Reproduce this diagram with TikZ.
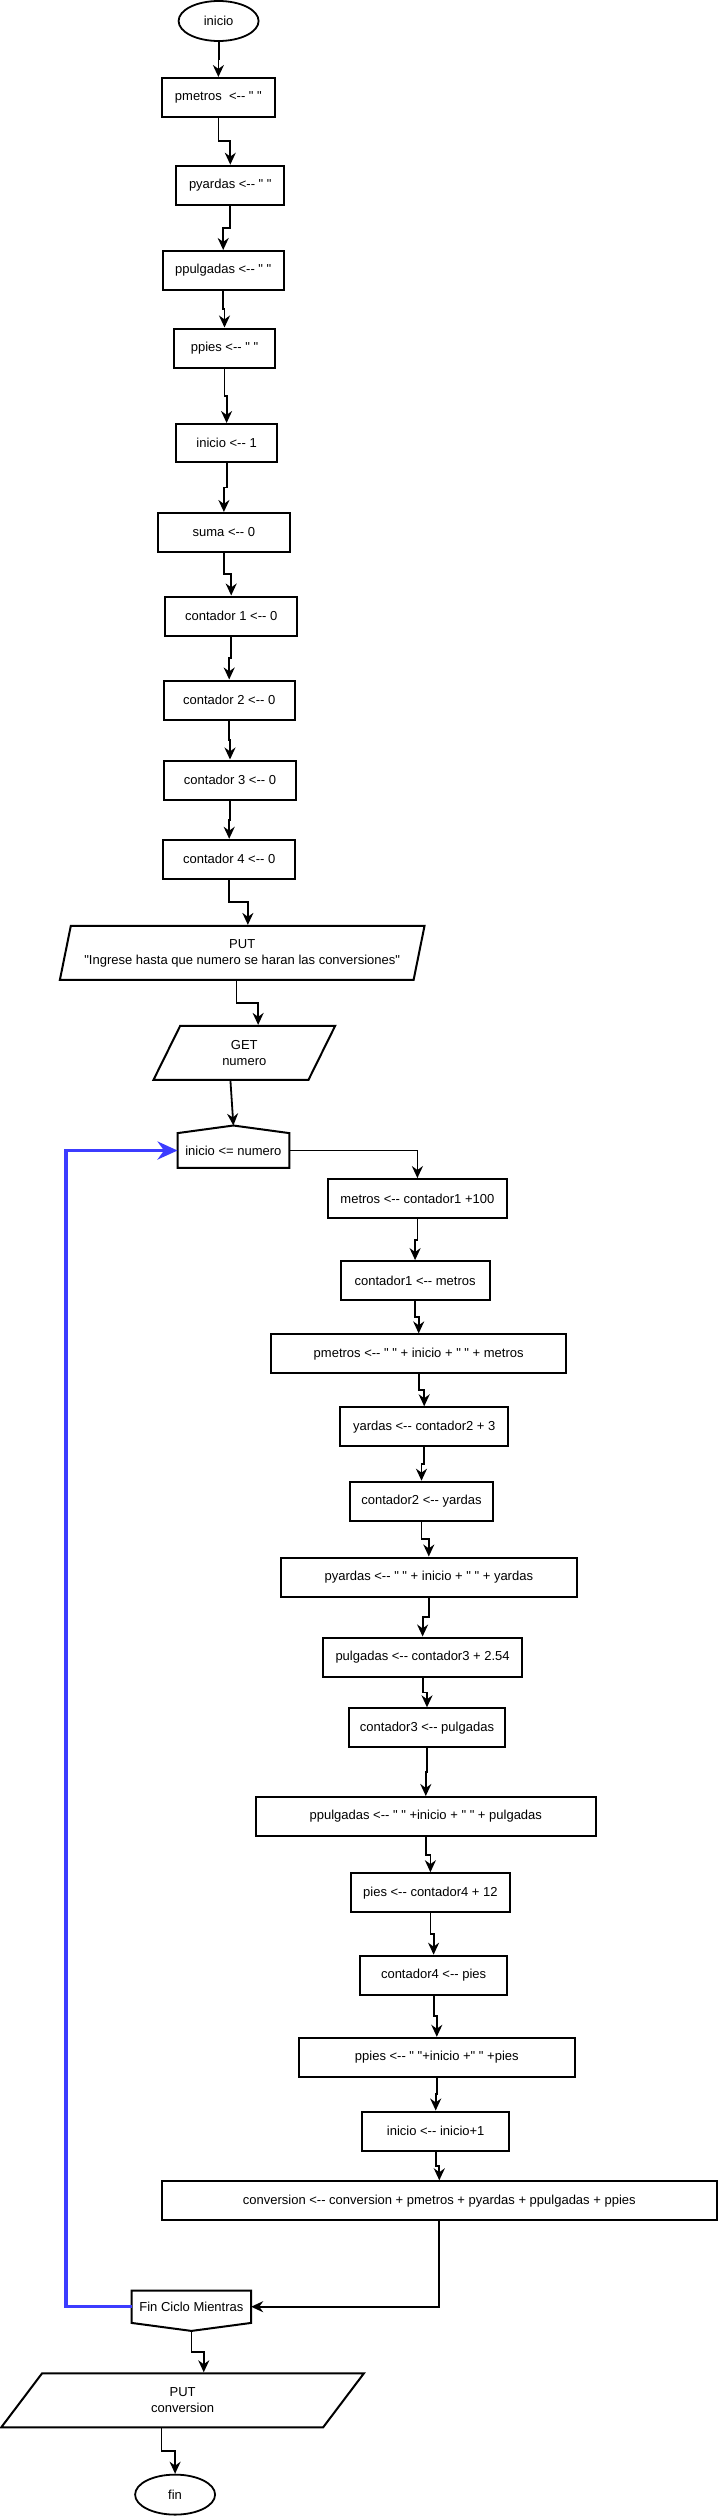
\documentclass[tikz,border=0pt]{standalone}
\usepackage{fontspec}
\newfontfamily\diagfont{Liberation Sans}[Ligatures=TeXOff]
\usepackage{tikz}
\usetikzlibrary{shapes.geometric,arrows.meta,calc}
\definecolor{azulciclo}{RGB}{60,60,255}

\begin{document}
\begin{tikzpicture}[x=1pt, y=-1pt,
    every node/.style={font=\diagfont\fontsize{13}{16}\selectfont, align=center, inner sep=0pt},
    caja/.style={draw, line width=2pt, rectangle, minimum height=39pt},
    terminal/.style={draw, line width=1.8pt, ellipse, minimum width=80pt, minimum height=40pt},
    entrada/.style={draw, line width=2pt, trapezium, trapezium left angle=70, trapezium right angle=110, trapezium stretches=true, minimum height=54pt},
    flecha/.style={-{Stealth[length=12pt,width=11pt]}, line width=1.8pt},
    retorno/.style={-{Stealth[length=20pt,width=18pt]}, line width=3.5pt, azulciclo}]
    \useasboundingbox (0,0) rectangle (718,2516);

    % Inicio
    \node[terminal] (ini) at (218.6,21) {inicio};

    % Valores iniciales
    \node[caja, minimum width=113.6pt] (pmetrosvacio) at (218.4,97.5) {pmetros~~<-- " "};
    \node[caja, minimum width=108pt] (pyardasvacio) at (230.3,185.2) {pyardas <-- " "};
    \node[caja, minimum width=121.4pt] (ppulgadasvacio) at (223.2,270.5) {ppulgadas <-- " "};
    \node[caja, minimum width=101pt] (ppiesvacio) at (224.5,348) {ppies <-- " "};
    \node[caja, minimum width=100.7pt, minimum height=38pt] (inicio1) at (226.6,443) {inicio <-- 1};
    \node[caja, minimum width=131.8pt] (suma0) at (223.9,532.5) {suma <-- 0};
    \node[caja, minimum width=131.9pt] (cont1) at (231.2,616) {contador 1 <-- 0};
    \node[caja, minimum width=131.4pt] (cont2) at (229.2,700) {contador 2 <-- 0};
    \node[caja, minimum width=132pt] (cont3) at (230,780) {contador 3 <-- 0};
    \node[caja, minimum width=131.5pt] (cont4) at (229.2,859.3) {contador 4 <-- 0};

    % Entrada
    \node[entrada, minimum width=365pt] (mensaje) at (242.2,952.9) {PUT\\"Ingrese hasta que numero se haran las conversiones"};
    \node[entrada, minimum width=182pt] (leer) at (244.3,1052.9) {GET\\numero};

    % Ciclo mientras
    \node[minimum width=111.3pt, minimum height=34.4pt] (mientras) at (233.4,1150.5) {inicio <= numero};
    \draw[line width=2pt] (mientras.south west) -- (mientras.north west) -- ([yshift=7.6pt]mientras.north) coordinate (techo) -- (mientras.north east) -- (mientras.south east) -- cycle;

    \node[caja, minimum width=179pt] (metros) at (417.4,1198.6) {metros <-- contador1 +100};
    \node[caja, minimum width=148.8pt] (cont1m) at (415.1,1280.6) {contador1 <-- metros};
    \node[caja, minimum width=295.4pt] (pmetros) at (418.7,1353.9) {pmetros <-- " " + inicio + " " + metros};
    \node[caja, minimum width=168pt] (yardas) at (424.2,1426.8) {yardas <-- contador2 + 3};
    \node[caja, minimum width=143.3pt] (cont2y) at (421.5,1501.2) {contador2 <-- yardas};
    \node[caja, minimum width=296.3pt] (pyardas) at (428.8,1577) {pyardas <-- " " + inicio + " " + yardas};
    \node[caja, minimum width=198.7pt] (pulgadas) at (422.6,1657) {pulgadas <-- contador3 + 2.54};
    \node[caja, minimum width=156pt] (cont3p) at (427,1727.8) {contador3 <-- pulgadas};
    \node[caja, minimum width=339.7pt] (ppulgadas) at (425.8,1816.5) {ppulgadas <-- " " +inicio + " " + pulgadas};
    \node[caja, minimum width=159.3pt] (pies) at (430.4,1892.7) {pies <-- contador4 + 12};
    \node[caja, minimum width=146.5pt] (cont4p) at (433.6,1975.2) {contador4 <-- pies};
    \node[caja, minimum width=276.5pt] (ppies) at (436.8,2057.3) {ppies <-- " "+inicio +" " +pies};
    \node[caja, minimum width=147pt] (incremento) at (435.7,2131) {inicio <-- inicio+1};
    \node[caja, minimum width=554.5pt] (conversion) at (439.3,2200.8) {conversion <-- conversion + pmetros + pyardas + ppulgadas + ppies};

    % Fin del ciclo
    \node[minimum width=119.1pt, minimum height=32pt] (finciclo) at (191.4,2306.7) {Fin Ciclo Mientras};
    \draw[line width=2pt] (finciclo.north west) -- (finciclo.south west) -- ([yshift=-8pt]finciclo.south) coordinate (pico) -- (finciclo.south east) -- (finciclo.north east) -- cycle;

    % Salida y fin
    \node[entrada, minimum width=363.5pt] (salida) at (182.6,2400.3) {PUT\\conversion};
    \node[terminal] (fin) at (175.1,2494.6) {fin};

    % Flechas
    \foreach \a/\b in {ini/pmetrosvacio, pmetrosvacio/pyardasvacio, pyardasvacio/ppulgadasvacio,
        ppulgadasvacio/ppiesvacio, ppiesvacio/inicio1, inicio1/suma0, suma0/cont1, cont1/cont2,
        cont2/cont3, cont3/cont4, metros/cont1m, cont1m/pmetros, pmetros/yardas, yardas/cont2y,
        cont2y/pyardas, pyardas/pulgadas, pulgadas/cont3p, cont3p/ppulgadas, ppulgadas/pies,
        pies/cont4p, cont4p/ppies, ppies/incremento, incremento/conversion}
        \draw[flecha] (\a.south) |- ($(\a.south)!.5!(\b.north)$) -| (\b.north);

    \draw[flecha] (cont4.south) |- ($(cont4.south)!.5!(mensaje.top side)$) -| (mensaje.top side);
    \draw[flecha] (mensaje.bottom side) |- ($(mensaje.bottom side)!.5!(leer.top side)$) -| (leer.top side);
    \draw[flecha] (leer.bottom side) -- (techo);
    \draw[flecha] (mientras.east) -| (metros.north);
    \draw[flecha] (conversion.south) |- (finciclo.east);
    \draw[retorno] (finciclo.west) -- ++(-65.5,0) |- (mientras.west);
    \draw[flecha] (pico) |- ($(pico)!.5!(salida.top side)$) -| (salida.top side);
    \draw[flecha] (salida.bottom side) |- ($(salida.bottom side)!.5!(fin.north)$) -| (fin.north);
\end{tikzpicture}
\end{document}
